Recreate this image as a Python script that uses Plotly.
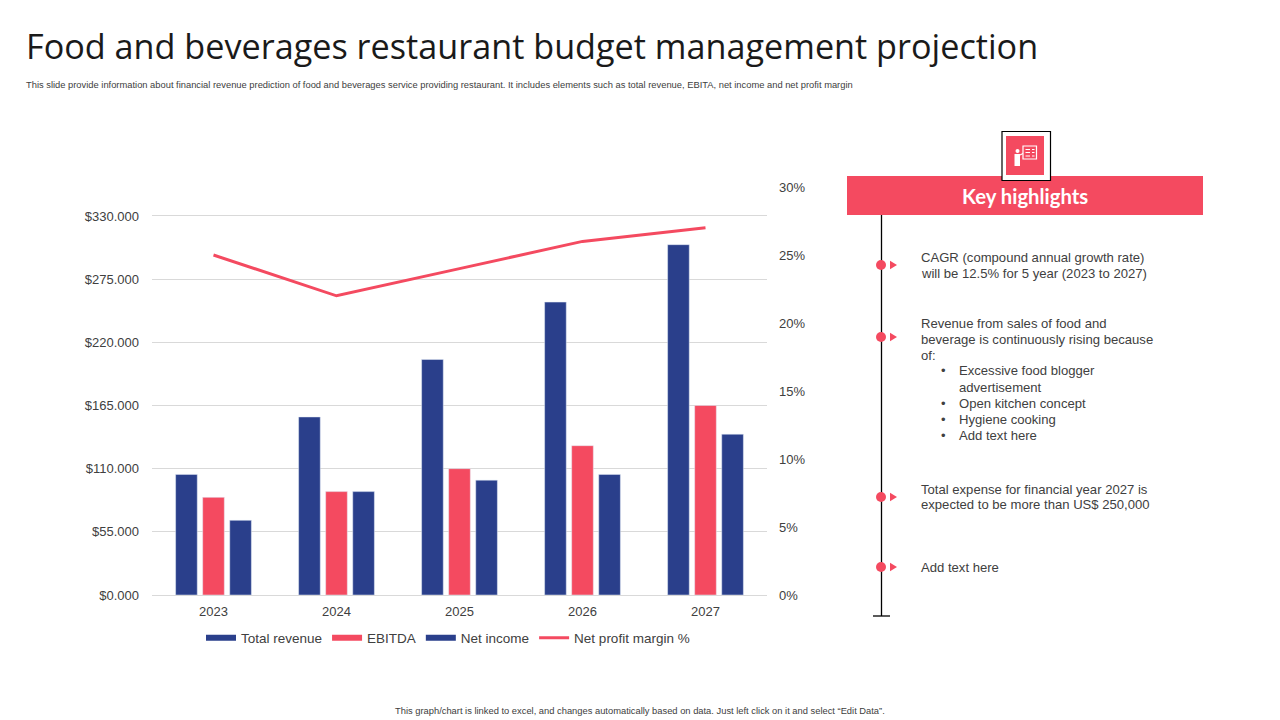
import plotly.graph_objects as go

years = ["2023", "2024", "2025", "2026", "2027"]
total_revenue = [105, 155, 205, 255, 305]
ebitda = [85, 90, 110, 130, 165]
net_income = [65, 90, 100, 105, 140]
margin = [25, 22, 24, 26, 27]
left_ticks = [0, 55, 110, 165, 220, 275, 330]
right_ticks = [0, 5, 10, 15, 20, 25, 30]
right_labels = ["0%", "5%", "10%", "15%", "20%", "25%", "30%"]

NAVY = "#2A3F8B"
RED = "#F44A60"
GREY = "#404040"
W, H = 1280, 720


def px(x):
    return x / W


def py(y):
    return 1 - y / H


fig = go.Figure()
series = [("Total revenue", total_revenue, NAVY), ("EBITDA", ebitda, RED), ("Net income", net_income, NAVY)]
for name, vals, col in series:
    fig.add_trace(go.Bar(x=years, y=vals, name=name, marker_color=col, showlegend=False, legendgroup=name))
fig.add_trace(go.Scatter(x=years, y=margin, name="Net profit margin %", mode="lines",
                         line=dict(color=RED, width=3), yaxis="y2", showlegend=False,
                         legendgroup="Net profit margin %"))
# legend keys drawn as wide swatches
for name, vals, col in series:
    fig.add_trace(go.Scatter(x=[None], y=[None], name=name, mode="lines", legendgroup=name,
                             line=dict(color=col, width=6)))
fig.add_trace(go.Scatter(x=[None], y=[None], name="Net profit margin %", mode="lines",
                         legendgroup="Net profit margin %", yaxis="y2", line=dict(color=RED, width=3)))

shapes = []


def rect(x0, y0, x1, y1, fill, line=None, lw=0):
    shapes.append(dict(type="rect", xref="paper", yref="paper", x0=px(x0), x1=px(x1), y0=py(y0), y1=py(y1),
                       fillcolor=fill, line=dict(color=line or fill, width=lw)))


def seg(x0, y0, x1, y1, col="#000000", lw=1.3):
    shapes.append(dict(type="line", xref="paper", yref="paper", x0=px(x0), x1=px(x1), y0=py(y0), y1=py(y1),
                       line=dict(color=col, width=lw)))


def dot(cx, cy, r, col):
    shapes.append(dict(type="circle", xref="paper", yref="paper", x0=px(cx - r), x1=px(cx + r),
                       y0=py(cy - r), y1=py(cy + r), fillcolor=col, line=dict(color=col, width=0)))


def tri(x0, cy, w, h, col):
    path = f"M{px(x0)},{py(cy - h)} L{px(x0 + w)},{py(cy)} L{px(x0)},{py(cy + h)} Z"
    shapes.append(dict(type="path", xref="paper", yref="paper", path=path, fillcolor=col, line=dict(color=col, width=0)))


rect(847, 176, 1203, 215, RED)
rect(1002, 131.5, 1050.5, 180.5, "#FFFFFF", "#000000", 1.2)
rect(1006, 136, 1044, 175, RED)
# presenter icon
dot(1017.5, 151, 2, "#FFFFFF")
rect(1014.5, 154, 1020, 166, "#FFFFFF")
seg(1020, 155, 1024, 153, "#FFFFFF", 1.2)
rect(1023, 146, 1036.5, 159, RED, "#FFFFFF", 1.2)
for yy in (149.5, 152.5, 156):
    seg(1025.5, yy, 1030, yy, "#FFFFFF", 1)
    seg(1032, yy, 1034.5, yy, "#FFFFFF", 1)
# timeline
seg(881.5, 215, 881.5, 616)
seg(873, 616, 890, 616)
for cy in (265, 337, 497, 567):
    dot(881, cy, 5, RED)
    tri(890, cy, 7, 4.2, RED)

annotations = []


def text(x, y, s, size=13, color=GREY, font="Liberation Sans", anchor="left"):
    annotations.append(dict(xref="paper", yref="paper", x=px(x), y=py(y), text=s, showarrow=False,
                            xanchor=anchor, yanchor="middle", align=anchor, borderpad=0, borderwidth=0,
                            font=dict(size=size, color=color, family=font)))


text(26, 45, "Food and beverages restaurant budget management projection", 34.2, "#1A1A1A", "Open Sans")
text(26, 85, "This slide provide information about financial revenue prediction of food and beverages service providing restaurant. It includes elements such as total revenue, EBITA, net income and net profit margin", 9.35)
text(1025, 196, "<b>Key highlights</b>", 20.3, "#FFFFFF", "Lato", "center")
text(640, 710.5, "This graph/chart is linked to excel, and changes automatically based on data. Just left click on it and select “Edit Data”.", 9.35, GREY, "Liberation Sans", "center")
lines = [
    (921, 257, "CAGR (compound annual growth rate)"),
    (921, 273, "will be 12.5% for 5 year (2023 to 2027)"),
    (921, 323, "Revenue from sales of food and"),
    (921, 339, "beverage is continuously rising because"),
    (921, 355, "of:"),
    (959, 371, "Excessive food blogger"),
    (959, 387, "advertisement"),
    (959, 403, "Open kitchen concept"),
    (959, 419, "Hygiene cooking"),
    (959, 435, "Add text here"),
    (921, 489, "Total expense for financial year 2027 is"),
    (921, 505, "expected to be more than US$ 250,000"),
    (921, 567, "Add text here"),
]
for x, y, s in lines:
    text(x, y, s, 13.1)
for y in (371, 403, 419, 435):
    text(941, y, "•", 13)

fig.update_layout(
    width=W, height=H, margin=dict(l=0, r=0, t=0, b=0, autoexpand=False), autosize=False,
    paper_bgcolor="#FFFFFF", plot_bgcolor="#FFFFFF",
    font=dict(family="Liberation Sans", size=13, color=GREY),
    barmode="group", bargap=0.34, bargroupgap=0.2,
    xaxis=dict(domain=[px(152), px(767)], showgrid=False, showline=True, linecolor="#D9D9D9", linewidth=1,
               ticks="", anchor="y", ticklabelstandoff=4, tickfont=dict(size=13, color=GREY)),
    yaxis=dict(domain=[py(595), py(187)], range=[0, 355.2], tickvals=left_ticks, tickformat="$.3f",
               gridcolor="#D9D9D9", gridwidth=1, zeroline=False, showline=False, ticks="",
               ticklabelstandoff=12, tickfont=dict(size=13, color=GREY)),
    yaxis2=dict(domain=[py(595), py(187)], range=[0, 30], tickvals=right_ticks, ticktext=right_labels,
                overlaying="y", side="right", showgrid=False, zeroline=False, showline=False, ticks="",
                ticklabelstandoff=11, tickfont=dict(size=13, color=GREY)),
    legend=dict(orientation="h", x=px(201), xanchor="left", y=py(638), yanchor="middle", itemwidth=30,
                font=dict(size=13.5, color=GREY), bgcolor="rgba(0,0,0,0)", traceorder="normal"),
    shapes=shapes, annotations=annotations, hovermode=False,
)
fig.write_html("out.html", post_script="document.body.style.margin='0';", config=dict(displayModeBar=False))
